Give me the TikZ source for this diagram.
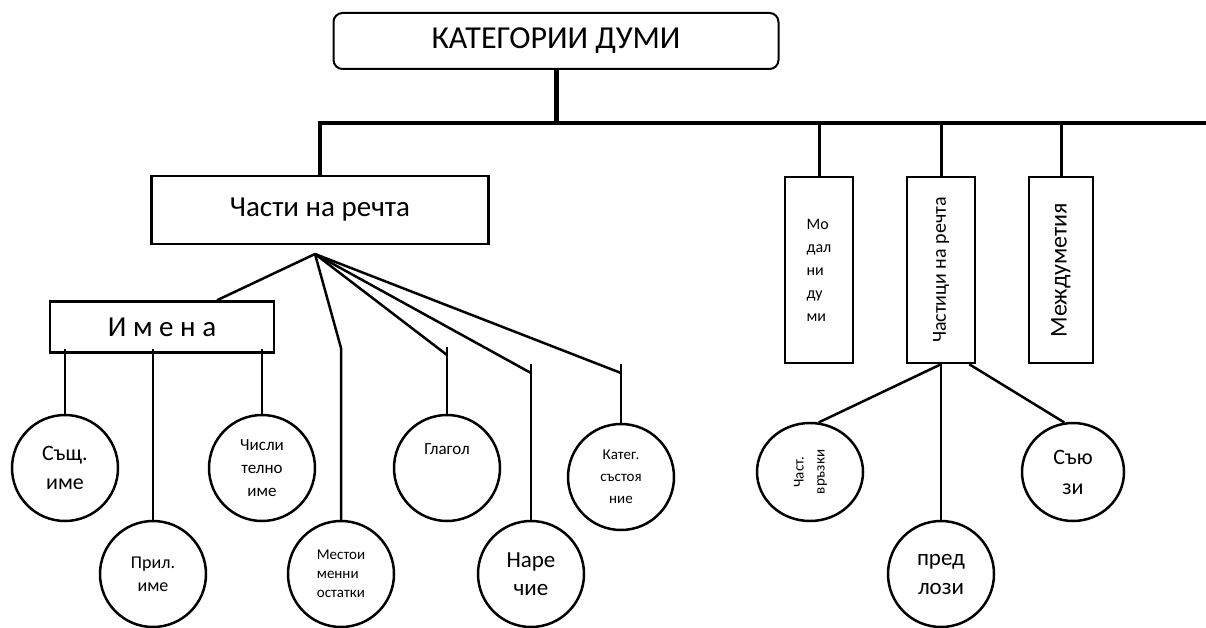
\documentclass[tikz,border=0pt]{standalone}
\usepackage{fontspec}
\setmainfont{Carlito}
\usetikzlibrary{shapes.geometric}

\begin{document}
\begin{tikzpicture}[x=1pt,y=-1pt,
  box/.style={draw,line width=2.5,inner sep=0},
  krug/.style={draw,circle,line width=2.5,inner sep=0,minimum size=106,align=center},
  ovl/.style={draw,ellipse,line width=2.5,inner sep=0,align=center},
  vrz/.style={line width=2.5}]
\useasboundingbox (0,0) rectangle (1206,628);

\node[box,line width=2,rounded corners=9,minimum width=445,minimum height=56,font=\fontsize{32}{38}\selectfont] (kat) at (556,41) {КАТЕГОРИИ ДУМИ};
\node[box,minimum width=337,minimum height=68,font=\fontsize{29}{34}\selectfont] (chasti) at (320,210) {Части на речта};
\node[box,minimum width=224,minimum height=51,font=\fontsize{29}{33}\selectfont] (imena) at (162,327) {И м е н а};

\node[box,minimum width=68,minimum height=186,align=left,font=\fontsize{16}{23}\selectfont] (modal) at (819,270) {Мо\\дал\\ни\\ду\\ми};
\node[box,minimum width=68,minimum height=186,font=\fontsize{20}{24}\selectfont] (chastici) at (941,270) {\rotatebox{90}{Частици на речта}};
\node[box,minimum width=64,minimum height=186,font=\fontsize{24}{28}\selectfont] (mezhd) at (1061,270) {\rotatebox{90}{Междуметия}};

\node[krug,font=\fontsize{22}{29}\selectfont] (sasht) at (65,468) {Същ.\\име};
\node[krug,font=\fontsize{18}{23}\selectfont] (pril) at (153,574) {Прил.\\име};
\node[krug,font=\fontsize{17}{23}\selectfont] (chisl) at (262,468) {Числи\\телно\\име};
\node[krug,align=left,font=\fontsize{15}{19}\selectfont] (mest) at (341,574) {Местои\\менни\\остатки};
\node[krug,label={[font=\fontsize{17}{20}\selectfont,yshift=19]center:Глагол}] (glagol) at (447,468) {};
\node[krug,font=\fontsize{23}{28}\selectfont] (narechie) at (531,574) {Наре\\чие};
\node[krug,font=\fontsize{15}{22}\selectfont] (kateg) at (621,477) {Катег.\\състоя\\ние};

\node[ovl,minimum width=106,minimum height=98,font=\fontsize{15}{21}\selectfont] (vrazki) at (810,472) {\rotatebox{90}{\begin{tabular}{@{}c@{}}Част.\\връзки\end{tabular}}};
\node[krug,font=\fontsize{23}{29}\selectfont] (predlozi) at (941,574) {пред\\лози};
\node[ovl,minimum width=102,minimum height=98,font=\fontsize{22}{30}\selectfont] (suyuzi) at (1073,472) {Съю\\зи};

\coordinate (barL) at (320,123);
\coordinate (barR) at (1206,123);
\coordinate (fan) at (315,254);
\coordinate (mestJ) at (341,348);
\coordinate (glJ) at (447,355);
\coordinate (glT) at (447,347);
\coordinate (narJ) at (531,373);
\coordinate (narT) at (531,364);
\coordinate (katJ) at (621,373);
\coordinate (katT) at (621,364);

\draw[line width=5] (kat.south) -- (kat.south |- barL);
\draw[line width=4.5] (barR) -- (barL) -- (chasti.north);
\draw[line width=3] (modal.north |- barL) -- (modal.north);
\draw[line width=3] (chastici.north |- barL) -- (chastici.north);
\draw[line width=3] (mezhd.north |- barL) -- (mezhd.north);

\draw[vrz] (fan) -- ([xshift=55]imena.north);
\draw[vrz] (fan) -- (mestJ) -- (mest.north);
\draw[vrz] (fan) -- (glJ);
\draw[vrz] (glT) -- (glagol.north);
\draw[vrz] (fan) -- (narJ);
\draw[vrz] (narT) -- (narechie.north);
\draw[vrz] (fan) -- (katJ);
\draw[vrz] (katT) -- (kateg.north);

\draw[vrz] ([yshift=5]imena.south -| sasht.north) -- (sasht.north);
\draw[vrz] ([yshift=5]imena.south -| pril.north) -- (pril.north);
\draw[vrz] ([yshift=5]imena.south -| chisl.north) -- (chisl.north);

\draw[vrz] (chastici.south) -- (vrazki.80);
\draw[vrz] (chastici.south) -- (predlozi.north);
\draw[vrz] ([xshift=-7]chastici.south east) -- (suyuzi.100);
\end{tikzpicture}
\end{document}
